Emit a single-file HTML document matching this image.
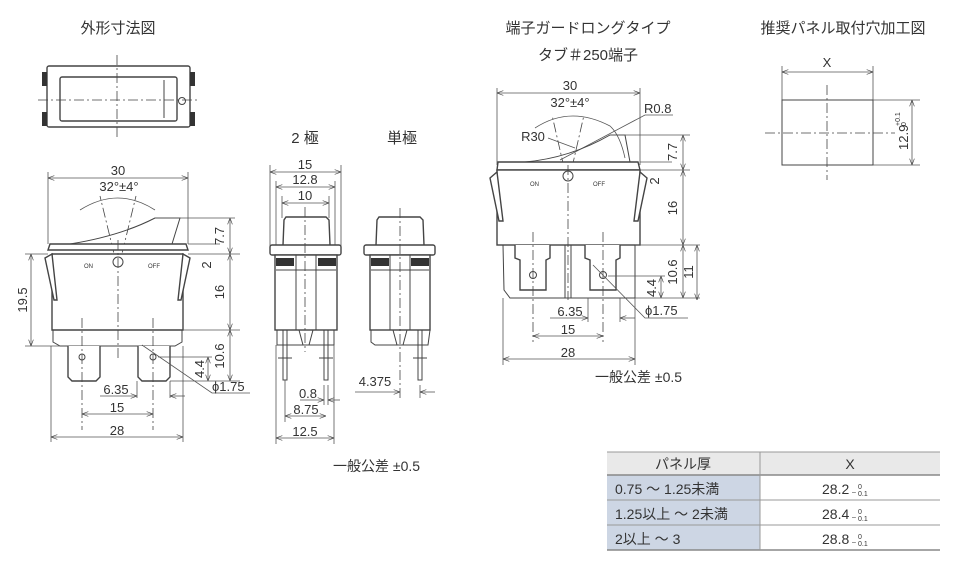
<!DOCTYPE html>
<html><head><meta charset="utf-8"><style>
html,body{margin:0;padding:0;background:#fff;}
svg{display:block;}
text{font-family:"Liberation Sans","Noto Sans CJK JP",sans-serif;fill:#333;}
.l{stroke:#444;stroke-width:1;fill:none;}
.t{stroke:#444;stroke-width:1.4;fill:#fff;}
.d{stroke:#555;stroke-width:0.8;fill:none;}
.c{stroke:#444;stroke-width:0.8;fill:none;stroke-dasharray:10 3 2 3;}
</style></head><body>
<svg width="980" height="561" viewBox="0 0 980 561" xmlns="http://www.w3.org/2000/svg">
<defs>
<marker id="a" markerWidth="8" markerHeight="6" refX="8" refY="3" orient="auto-start-reverse"><path d="M0,0 L8,3 L0,6" fill="none" stroke="#444" stroke-width="0.8"/></marker>
</defs>
<!-- titles -->
<text x="118" y="33" font-size="15" text-anchor="middle">外形寸法図</text>
<text x="588" y="33" font-size="15" text-anchor="middle">端子ガードロングタイプ</text>
<text x="588" y="60" font-size="15" text-anchor="middle">タブ＃250端子</text>
<text x="843" y="33" font-size="15" text-anchor="middle">推奨パネル取付穴加工図</text>
<text x="305" y="143" font-size="15" text-anchor="middle">2 極</text>
<text x="402" y="143" font-size="15" text-anchor="middle">単極</text>

<!-- top view -->
<rect x="47" y="66" width="143" height="61" class="t" rx="2"/>
<rect x="60" y="77" width="117" height="44" class="t" rx="2"/>
<rect x="42" y="72" width="5" height="14" fill="#333"/><rect x="42" y="112" width="5" height="14" fill="#333"/>
<rect x="190" y="72" width="5" height="14" fill="#333"/><rect x="190" y="112" width="5" height="14" fill="#333"/>
<line x1="117" y1="55" x2="117" y2="140" class="c"/><line x1="38" y1="100" x2="200" y2="100" class="c"/>
<circle cx="182" cy="101" r="3.5" class="l"/><line x1="164" y1="80" x2="164" y2="118" class="l"/>

<!-- front view left -->
<g>
<line x1="48" y1="172" x2="48" y2="244" class="d"/><line x1="188" y1="172" x2="188" y2="244" class="d"/>
<line x1="48" y1="178" x2="188" y2="178" class="d" marker-start="url(#a)" marker-end="url(#a)"/>
<text x="118" y="175" font-size="13" text-anchor="middle">30</text>
<text x="119" y="191" font-size="13" text-anchor="middle">32°±4°</text>
<path d="M80,210 Q118,186 155,210" class="d"/>
<line x1="118" y1="270" x2="100" y2="196" class="c"/><line x1="118" y1="270" x2="136" y2="196" class="c"/>
<path d="M48,250 L50,244 L186,244 L188,250 Z" class="t"/>
<path d="M70,244 Q120,236 155,218 L180,218 L172,244" class="l"/>
<path d="M52,254 L183,254 L183,330 L52,330 Z" class="t"/>
<path d="M45,258 L52,254 L57,300 L54,300 Z" class="t"/><path d="M190,258 L183,254 L178,300 L181,300 Z" class="t"/>
<path d="M53,330 L53,342 L60,346 L175,346 L182,342 L182,330" class="l"/>
<path d="M68,346 L68,377 L72,381 L96,381 L100,377 L100,346" class="t"/>
<path d="M138,346 L138,377 L142,381 L166,381 L170,377 L170,346" class="t"/>
<circle cx="82" cy="357" r="3" class="l"/><circle cx="153" cy="357" r="3" class="l"/>
<line x1="118" y1="240" x2="118" y2="360" class="c"/>
<line x1="82" y1="318" x2="82" y2="430" class="c"/><line x1="153" y1="318" x2="153" y2="430" class="c"/>
<text x="84" y="268" font-size="6">ON</text><text x="148" y="268" font-size="6">OFF</text>
<circle cx="118" cy="262" r="5" class="l"/>
<!-- right dims -->
<line x1="155" y1="218" x2="235" y2="218" class="d"/><line x1="188" y1="244" x2="220" y2="244" class="d"/>
<line x1="188" y1="254" x2="240" y2="254" class="d"/><line x1="183" y1="330" x2="240" y2="330" class="d"/>
<line x1="170" y1="381" x2="240" y2="381" class="d"/>
<line x1="230" y1="218" x2="230" y2="254" class="d" marker-start="url(#a)" marker-end="url(#a)"/>
<line x1="230" y1="254" x2="230" y2="330" class="d" marker-start="url(#a)" marker-end="url(#a)"/>
<line x1="230" y1="330" x2="230" y2="381" class="d" marker-start="url(#a)" marker-end="url(#a)"/>
<line x1="208" y1="357" x2="208" y2="381" class="d" marker-start="url(#a)" marker-end="url(#a)"/>
<line x1="158" y1="357" x2="212" y2="357" class="d"/>
<text transform="translate(224,236) rotate(-90)" font-size="13" text-anchor="middle">7.7</text>
<text transform="translate(211,265) rotate(-90)" font-size="13" text-anchor="middle">2</text>
<text transform="translate(224,292) rotate(-90)" font-size="13" text-anchor="middle">16</text>
<text transform="translate(224,356) rotate(-90)" font-size="13" text-anchor="middle">10.6</text>
<text transform="translate(204,369) rotate(-90)" font-size="13" text-anchor="middle">4.4</text>
<path d="M142,345 L212,393 L250,393" class="d"/>
<text x="212" y="391" font-size="13">ϕ1.75</text>
<!-- left 19.5 -->
<line x1="25" y1="254" x2="48" y2="254" class="d"/><line x1="25" y1="346" x2="60" y2="346" class="d"/>
<line x1="31" y1="254" x2="31" y2="346" class="d" marker-start="url(#a)" marker-end="url(#a)"/>
<text transform="translate(27,300) rotate(-90)" font-size="13" text-anchor="middle">19.5</text>
<!-- bottom dims -->
<line x1="51" y1="346" x2="51" y2="442" class="d"/><line x1="183" y1="346" x2="183" y2="442" class="d"/>
<line x1="137" y1="381" x2="137" y2="398" class="d"/><line x1="170" y1="381" x2="170" y2="398" class="d"/>
<line x1="100" y1="396" x2="137" y2="396" class="d" marker-end="url(#a)"/><line x1="185" y1="396" x2="170" y2="396" class="d" marker-end="url(#a)"/>
<text x="116" y="394" font-size="13" text-anchor="middle">6.35</text>
<line x1="82" y1="414" x2="153" y2="414" class="d" marker-start="url(#a)" marker-end="url(#a)"/>
<text x="117" y="412" font-size="13" text-anchor="middle">15</text>
<line x1="51" y1="437" x2="183" y2="437" class="d" marker-start="url(#a)" marker-end="url(#a)"/>
<text x="117" y="435" font-size="13" text-anchor="middle">28</text>
</g>

<!-- 2-pole side -->
<g>
<line x1="270" y1="165" x2="270" y2="250" class="d"/><line x1="341" y1="165" x2="341" y2="250" class="d"/>
<line x1="270" y1="172" x2="341" y2="172" class="d" marker-start="url(#a)" marker-end="url(#a)"/>
<text x="305" y="169" font-size="13" text-anchor="middle">15</text>
<line x1="276" y1="181" x2="276" y2="250" class="d"/><line x1="335" y1="181" x2="335" y2="250" class="d"/>
<line x1="276" y1="187" x2="335" y2="187" class="d" marker-start="url(#a)" marker-end="url(#a)"/>
<text x="305" y="184" font-size="13" text-anchor="middle">12.8</text>
<line x1="282" y1="196" x2="282" y2="218" class="d"/><line x1="329" y1="196" x2="329" y2="218" class="d"/>
<line x1="282" y1="203" x2="329" y2="203" class="d" marker-start="url(#a)" marker-end="url(#a)"/>
<text x="305" y="200" font-size="13" text-anchor="middle">10</text>
<path d="M283,245 L284,220 L286,217 L326,217 L329,220 L330,245" class="t"/>
<rect x="270" y="245" width="71" height="10" rx="2" class="t"/>
<rect x="275" y="255" width="62" height="75" class="t"/>
<rect x="276" y="258" width="18" height="8" fill="#333"/><rect x="318" y="258" width="18" height="8" fill="#333"/>
<line x1="276" y1="270" x2="336" y2="270" class="l"/>
<rect x="296" y="255" width="20" height="75" class="l"/>
<path d="M277,330 L277,345 L334,345 L334,330" class="l"/>
<path d="M299,330 L303,345 L309,345 L313,330" class="l"/>
<rect x="283" y="330" width="4" height="50" class="l"/><rect x="324" y="330" width="4" height="50" class="l"/>
<line x1="305" y1="207" x2="305" y2="352" class="c"/>
<line x1="278" y1="358" x2="292" y2="358" class="l"/><line x1="319" y1="358" x2="333" y2="358" class="l"/>
<line x1="324" y1="385" x2="324" y2="405" class="d"/><line x1="328" y1="385" x2="328" y2="405" class="d"/>
<line x1="300" y1="400" x2="324" y2="400" class="d" marker-end="url(#a)"/><line x1="340" y1="400" x2="328" y2="400" class="d" marker-end="url(#a)"/>
<text x="308" y="398" font-size="13" text-anchor="middle">0.8</text>
<line x1="285" y1="380" x2="285" y2="422" class="d"/>
<line x1="285" y1="416" x2="326" y2="416" class="d" marker-start="url(#a)" marker-end="url(#a)"/>
<text x="306" y="414" font-size="13" text-anchor="middle">8.75</text>
<line x1="276" y1="345" x2="276" y2="444" class="d"/><line x1="334" y1="345" x2="334" y2="444" class="d"/>
<line x1="276" y1="438" x2="334" y2="438" class="d" marker-start="url(#a)" marker-end="url(#a)"/>
<text x="305" y="436" font-size="13" text-anchor="middle">12.5</text>
</g>

<!-- single pole -->
<g>
<path d="M376,245 L377,220 L379,217 L420,217 L423,220 L424,245" class="t"/>
<rect x="364" y="245" width="71" height="10" rx="2" class="t"/>
<rect x="370" y="255" width="60" height="75" class="t"/>
<rect x="371" y="258" width="18" height="8" fill="#333"/><rect x="411" y="258" width="18" height="8" fill="#333"/>
<line x1="371" y1="270" x2="429" y2="270" class="l"/>
<rect x="390" y="255" width="20" height="75" class="l"/>
<path d="M371,330 L371,342 L375,345 L428,345 L430,330" class="l"/>
<path d="M393,330 L397,345 L403,345 L407,330" class="l"/>
<rect x="418" y="330" width="4" height="50" class="l"/>
<line x1="400" y1="208" x2="400" y2="400" class="c"/>
<line x1="413" y1="358" x2="427" y2="358" class="l"/>
<line x1="420" y1="385" x2="420" y2="398" class="d"/>
<line x1="355" y1="392" x2="400" y2="392" class="d" marker-end="url(#a)"/><line x1="435" y1="392" x2="420" y2="392" class="d" marker-end="url(#a)"/>
<text x="375" y="386" font-size="13" text-anchor="middle">4.375</text>
</g>
<text x="333" y="471" font-size="14">一般公差 ±0.5</text>

<!-- right front view -->
<g>
<line x1="497" y1="88" x2="497" y2="165" class="d"/><line x1="640" y1="88" x2="640" y2="165" class="d"/>
<line x1="497" y1="93" x2="640" y2="93" class="d" marker-start="url(#a)" marker-end="url(#a)"/>
<text x="570" y="90" font-size="13" text-anchor="middle">30</text>
<text x="570" y="107" font-size="13" text-anchor="middle">32°±4°</text>
<path d="M535,128 Q570,105 610,126 Q620,135 625,158" class="d"/>
<line x1="568" y1="185" x2="552" y2="115" class="c"/><line x1="568" y1="185" x2="584" y2="115" class="c"/>
<text x="533" y="141" font-size="13" text-anchor="middle">R30</text>
<line x1="548" y1="138" x2="575" y2="148" class="d"/>
<text x="644" y="113" font-size="13">R0.8</text>
<path d="M673,115 L645,115 L560,160" class="d"/>
<path d="M497,170 L498,162 L638,162 L640,170 Z" class="t"/>
<path d="M525,162 Q570,158 610,135 L625,135 L630,162" class="l"/>
<rect x="497" y="170" width="143" height="75" class="t"/>
<path d="M490,178 L497,172 L503,221 L499,221 Z" class="t"/><path d="M647,178 L640,172 L634,221 L638,221 Z" class="t"/>
<text x="530" y="186" font-size="6">ON</text><text x="593" y="186" font-size="6">OFF</text>
<circle cx="568" cy="176" r="5" class="l"/>
<line x1="568" y1="165" x2="568" y2="300" class="c"/>
<path d="M503,245 L504,290 L510,298 L635,298 L635,245" class="l"/>
<path d="M515,245 L515,258 L520,260 L520,290 L546,290 L546,260 L550,258 L550,245" class="t"/>
<path d="M585,245 L585,258 L590,260 L590,290 L616,290 L616,260 L620,258 L620,245" class="t"/>
<circle cx="533" cy="275" r="3.5" class="l"/><circle cx="603" cy="275" r="3.5" class="l"/>
<line x1="533" y1="232" x2="533" y2="342" class="c"/><line x1="603" y1="232" x2="603" y2="342" class="c"/>
<line x1="565" y1="245" x2="565" y2="298" class="l"/><line x1="571" y1="245" x2="571" y2="298" class="l"/>
<!-- right dims -->
<line x1="610" y1="135" x2="690" y2="135" class="d"/><line x1="640" y1="162" x2="672" y2="162" class="d"/>
<line x1="640" y1="170" x2="690" y2="170" class="d"/><line x1="635" y1="245" x2="700" y2="245" class="d"/>
<line x1="635" y1="298" x2="700" y2="298" class="d"/>
<line x1="683" y1="135" x2="683" y2="170" class="d" marker-start="url(#a)" marker-end="url(#a)"/>
<line x1="683" y1="170" x2="683" y2="245" class="d" marker-start="url(#a)" marker-end="url(#a)"/>
<line x1="683" y1="245" x2="683" y2="298" class="d" marker-start="url(#a)" marker-end="url(#a)"/>
<line x1="697" y1="245" x2="697" y2="300" class="d" marker-start="url(#a)" marker-end="url(#a)"/>
<line x1="661" y1="276" x2="661" y2="298" class="d" marker-start="url(#a)" marker-end="url(#a)"/>
<line x1="608" y1="276" x2="665" y2="276" class="d"/>
<text transform="translate(677,152) rotate(-90)" font-size="13" text-anchor="middle">7.7</text>
<text transform="translate(659,181) rotate(-90)" font-size="13" text-anchor="middle">2</text>
<text transform="translate(677,208) rotate(-90)" font-size="13" text-anchor="middle">16</text>
<text transform="translate(677,272) rotate(-90)" font-size="13" text-anchor="middle">10.6</text>
<text transform="translate(693,272) rotate(-90)" font-size="13" text-anchor="middle">11</text>
<text transform="translate(656,288) rotate(-90)" font-size="13" text-anchor="middle">4.4</text>
<path d="M593,265 L645,318 L688,318" class="d"/>
<text x="645" y="315" font-size="13">ϕ1.75</text>
<line x1="503" y1="298" x2="503" y2="365" class="d"/><line x1="635" y1="298" x2="635" y2="365" class="d"/>
<line x1="588" y1="298" x2="588" y2="322" class="d"/><line x1="620" y1="298" x2="620" y2="322" class="d"/>
<line x1="550" y1="318" x2="588" y2="318" class="d" marker-end="url(#a)"/><line x1="635" y1="318" x2="620" y2="318" class="d" marker-end="url(#a)"/>
<text x="570" y="316" font-size="13" text-anchor="middle">6.35</text>
<line x1="533" y1="336" x2="603" y2="336" class="d" marker-start="url(#a)" marker-end="url(#a)"/>
<text x="568" y="334" font-size="13" text-anchor="middle">15</text>
<line x1="503" y1="359" x2="635" y2="359" class="d" marker-start="url(#a)" marker-end="url(#a)"/>
<text x="568" y="357" font-size="13" text-anchor="middle">28</text>
<text x="595" y="382" font-size="14">一般公差 ±0.5</text>
</g>

<!-- panel cutout -->
<g>
<line x1="782" y1="66" x2="782" y2="165" class="d"/><line x1="873" y1="66" x2="873" y2="100" class="d"/>
<line x1="782" y1="72" x2="873" y2="72" class="d" marker-start="url(#a)" marker-end="url(#a)"/>
<text x="827" y="67" font-size="13" text-anchor="middle">X</text>
<rect x="782" y="100" width="91" height="65" class="l"/>
<line x1="827" y1="85" x2="827" y2="180" class="c"/><line x1="765" y1="133" x2="895" y2="133" class="c"/>
<line x1="873" y1="100" x2="920" y2="100" class="d"/><line x1="873" y1="165" x2="920" y2="165" class="d"/>
<line x1="912" y1="100" x2="912" y2="165" class="d" marker-start="url(#a)" marker-end="url(#a)"/>
<text transform="translate(908,150) rotate(-90)" font-size="13">12.9</text>
<text transform="translate(900,126) rotate(-90)" font-size="7">+0.1</text>
<text transform="translate(906,126) rotate(-90)" font-size="7">0</text>
</g>

<!-- table -->
<g>
<rect x="607" y="452" width="333" height="23" fill="#e9e9e9"/>
<rect x="607" y="475" width="153" height="75" fill="#cdd6e4"/>
<line x1="607" y1="452" x2="940" y2="452" stroke="#999" stroke-width="1"/>
<line x1="607" y1="475" x2="940" y2="475" stroke="#888" stroke-width="1.5"/>
<line x1="607" y1="500" x2="940" y2="500" stroke="#999" stroke-width="1"/>
<line x1="607" y1="525" x2="940" y2="525" stroke="#999" stroke-width="1"/>
<line x1="607" y1="550" x2="940" y2="550" stroke="#888" stroke-width="1.5"/>
<line x1="760" y1="452" x2="760" y2="550" stroke="#999" stroke-width="1"/>
<text x="683" y="469" font-size="14" text-anchor="middle">パネル厚</text>
<text x="850" y="469" font-size="14" text-anchor="middle">X</text>
<text x="615" y="494" font-size="14">0.75 ～ 1.25未満</text>
<text x="615" y="519" font-size="14">1.25以上 ～ 2未満</text>
<text x="615" y="544" font-size="14">2以上 ～ 3</text>
<text x="822" y="494" font-size="14">28.2</text><text x="852" y="494" font-size="7">–</text><text x="858" y="489" font-size="7">0</text><text x="858" y="496" font-size="7">0.1</text>
<text x="822" y="519" font-size="14">28.4</text><text x="852" y="519" font-size="7">–</text><text x="858" y="514" font-size="7">0</text><text x="858" y="521" font-size="7">0.1</text>
<text x="822" y="544" font-size="14">28.8</text><text x="852" y="544" font-size="7">–</text><text x="858" y="539" font-size="7">0</text><text x="858" y="546" font-size="7">0.1</text>
</g>
</svg>
</body></html>
